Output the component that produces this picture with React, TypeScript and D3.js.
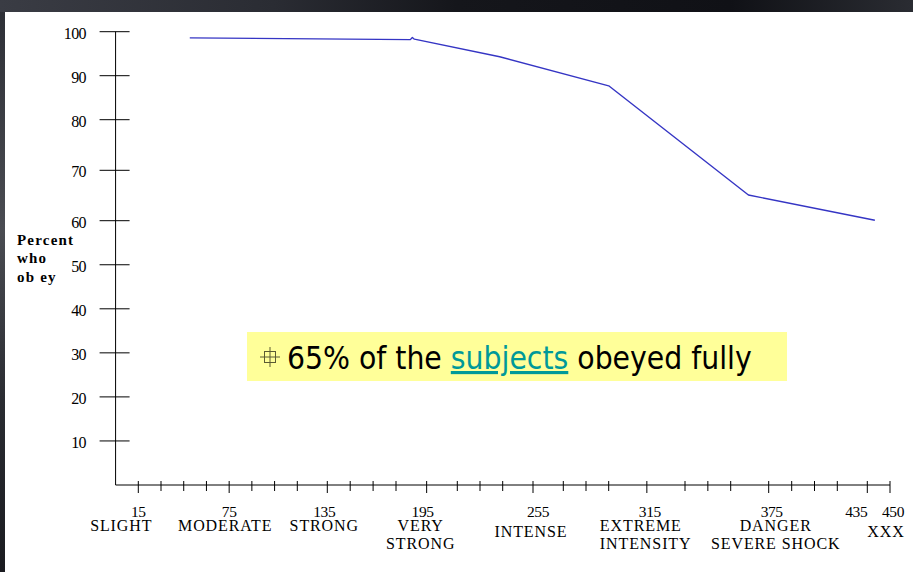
import React from 'react';
import * as d3 from 'd3';

// ---- data ----
const voltageTicks = d3.range(15, 451, 15);
const labeledVoltages = [15, 75, 135, 195, 255, 315, 375, 435, 450];
const percentTicks = [10, 20, 30, 40, 50, 60, 70, 80, 90, 100];
const categoryVoltages = [15, 75, 135, 195, 255, 315, 375, 450];
const categoryLines = [
  ['SLIGHT'],
  ['MODERATE'],
  ['STRONG'],
  ['VERY', 'STRONG'],
  ['INTENSE'],
  ['EXTREME', 'INTENSITY'],
  ['DANGER', 'SEVERE SHOCK'],
  ['XXX'],
];
const obeyVoltage = [49, 187, 188, 189, 238, 300, 367, 440];
const obeyPercent = [98.6, 98.2, 98.7, 98.3, 94.3, 87.7, 65.1, 60.1];
const yAxisTitle = ['Percent', 'who', 'ob ey'];
const noteParts = ['65% of the ', 'subjects', ' obeyed fully'];

// ---- layout (not data) ----
const numberDx: Record<number, number> = { 135: -3, 195: -4, 255: 5, 315: 3, 375: 3, 435: -11, 450: 3 };
const catLayout: Record<number, { dx: number; anchor: string; single?: number }> = {
  15: { dx: -17, anchor: 'middle' },
  75: { dx: -4, anchor: 'middle' },
  135: { dx: -3, anchor: 'middle' },
  195: { dx: -6, anchor: 'middle' },
  255: { dx: -2, anchor: 'middle', single: 537 },
  315: { dx: -47, anchor: 'start' },
  375: { dx: 7, anchor: 'middle' },
  450: { dx: -4, anchor: 'middle', single: 537 },
};

const W = 913;
const H = 572;

export default function App() {
  const x = d3
    .scaleLinear()
    .domain([15, 120, 135, 180, 210, 240, 270, 300, 330, 360, 375, 390, 420, 435, 450])
    .range([138.3, 297.3, 327.3, 396, 457.3, 502.7, 563.3, 608.7, 685, 730.7, 768.7, 791.7, 837.3, 867.3, 890]);
  const y = d3.scaleLinear().domain([0, 60, 70, 80, 100]).range([485, 220.7, 170.3, 119.7, 31.7]);

  const line = d3
    .line<number>()
    .x((_, i) => x(obeyVoltage[i]))
    .y((d) => y(d));
  const path = line(obeyPercent) || '';

  const axisX = x(0);
  const axisY = y(0);
  const serif = '"Liberation Serif", "Times New Roman", serif';

  return (
    <svg
      width={W}
      height={H}
      viewBox={`0 0 ${W} ${H}`}
      style={{ position: 'absolute', left: 0, top: 0, display: 'block' }}
    >
      <defs>
        <linearGradient id="bgTop" x1="0" y1="0" x2="1" y2="0">
          <stop offset="0" stopColor="#3a3c44" />
          <stop offset="0.3" stopColor="#2a2c33" />
          <stop offset="0.5" stopColor="#15161b" />
          <stop offset="0.8" stopColor="#101116" />
          <stop offset="1" stopColor="#2a2c32" />
        </linearGradient>
        <linearGradient id="bgLeft" x1="0" y1="0" x2="0" y2="1">
          <stop offset="0" stopColor="#2c2e35" />
          <stop offset="0.4" stopColor="#4a4c52" />
          <stop offset="0.7" stopColor="#2a2c32" />
          <stop offset="1" stopColor="#1a1b20" />
        </linearGradient>
      </defs>
      <rect x={0} y={0} width={W} height={H} fill="url(#bgLeft)" />
      <rect x={0} y={0} width={W} height={12} fill="url(#bgTop)" />
      <rect x={5} y={12} width={W - 5} height={H - 12} fill="#ffffff" />

      {/* Y axis */}
      <line x1={axisX} x2={axisX} y1={y(100)} y2={axisY} stroke="#000" strokeWidth={1} />
      {percentTicks.map((p) => (
        <g key={p}>
          <line x1={axisX - 16} x2={axisX + 14} y1={y(p)} y2={y(p)} stroke="#000" strokeWidth={1} />
          <text
            x={86}
            y={y(p) + 7}
            textAnchor="end"
            fontFamily={serif}
            fontSize={16}
            fill="#000"
            letterSpacing={-0.6}
          >
            {p}
          </text>
        </g>
      ))}
      {yAxisTitle.map((t, i) => (
        <text
          key={t}
          x={17}
          y={245 + i * 18.3}
          fontFamily={serif}
          fontWeight="bold"
          fontSize={15}
          letterSpacing={1.2}
          fill="#000"
        >
          {t}
        </text>
      ))}

      {/* X axis */}
      <line x1={axisX} x2={x(450)} y1={axisY} y2={axisY} stroke="#000" strokeWidth={1} />
      {voltageTicks.map((v) => {
        const labeled = labeledVoltages.includes(v);
        return (
          <line
            key={v}
            x1={x(v)}
            x2={x(v)}
            y1={axisY - 4}
            y2={axisY + (labeled ? 8 : 6)}
            stroke="#000"
            strokeWidth={1}
          />
        );
      })}
      {labeledVoltages.map((v) => (
        <text
          key={v}
          x={x(v) + (numberDx[v] || 0)}
          y={516.5}
          textAnchor="middle"
          fontFamily={serif}
          fontSize={15.5}
          letterSpacing={-0.4}
          fill="#000"
        >
          {v}
        </text>
      ))}
      {categoryVoltages.map((v, i) => {
        const L = catLayout[v];
        const lines = categoryLines[i];
        return lines.map((t, j) => (
          <text
            key={`${v}-${j}`}
            x={x(v) + L.dx}
            y={lines.length === 1 && L.single ? L.single : 531 + j * 18}
            textAnchor={L.anchor as any}
            fontFamily={serif}
            fontSize={16}
            letterSpacing={0.9}
            fill="#000"
          >
            {t}
          </text>
        ));
      })}

      {/* data line */}
      <path d={path} fill="none" stroke="#3535c4" strokeWidth={1.4} strokeLinejoin="round" />

      {/* annotation */}
      <rect x={247} y={332} width={540} height={49} fill="#ffff99" />
      <g stroke="#5b5b33" strokeWidth={1} fill="none">
        <rect x={264.5} y={351.5} width={11} height={11} />
        <line x1={260} x2={280} y1={357} y2={357} />
        <line x1={270} x2={270} y1={347} y2={367} />
      </g>
      <text
        x={287}
        y={369}
        fontFamily='"DejaVu Sans Condensed", "DejaVu Sans", sans-serif'
        fontSize={31.5}
        fill="#000"
      >
        <tspan>{noteParts[0]}</tspan>
        <tspan fill="#009999" textDecoration="underline" style={{ textDecoration: 'underline' }}>
          {noteParts[1]}
        </tspan>
        <tspan>{noteParts[2]}</tspan>
      </text>
    </svg>
  );
}
